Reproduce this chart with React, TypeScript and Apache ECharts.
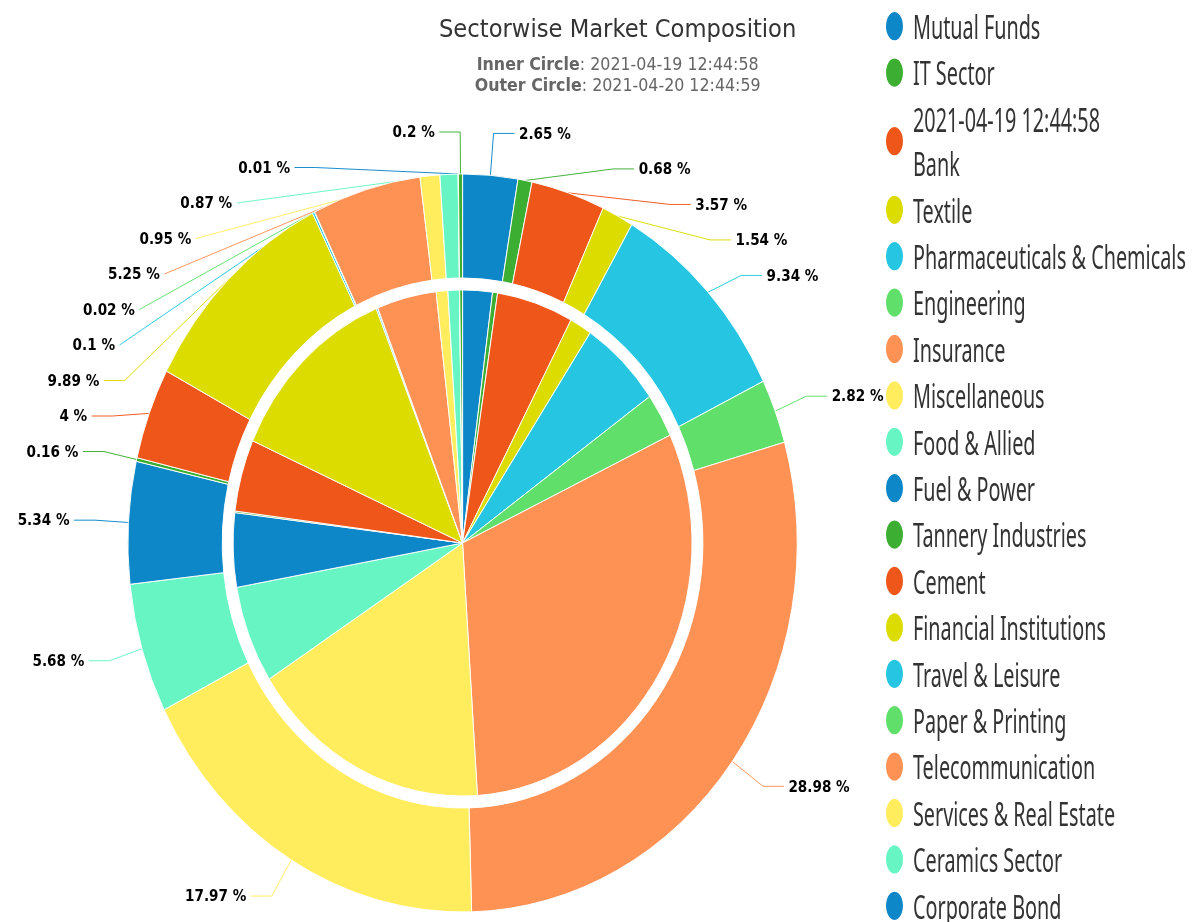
import React, { useEffect, useRef } from 'react';
import * as echarts from 'echarts';

const categories = [
  'Mutual Funds', 'IT Sector', 'Bank', 'Textile', 'Pharmaceuticals & Chemicals',
  'Engineering', 'Insurance', 'Miscellaneous', 'Food & Allied', 'Fuel & Power',
  'Tannery Industries', 'Cement', 'Financial Institutions', 'Travel & Leisure',
  'Paper & Printing', 'Telecommunication', 'Services & Real Estate', 'Ceramics Sector',
  'Corporate Bond', 'Jute',
];
// Outer circle: 2021-04-20 12:44:59 (percent)
const outerValues = [2.65, 0.68, 3.57, 1.54, 9.34, 2.82, 28.98, 17.97, 5.68, 5.34, 0.16, 4, 9.89, 0.1, 0.02, 5.25, 0.95, 0.87, 0.01, 0.2];
// Inner circle: 2021-04-19 12:44:58 (percent)
const innerValues = [2.09, 0.35, 5.39, 1.56, 5.78, 2.82, 30.98, 16.99, 6.23, 4.73, 0.1, 4.6, 12.24, 0.1, 0.02, 4.18, 0.82, 0.81, 0.01, 0.2];
const legendNames = categories.slice(0, 19);
const palette = ['#0d87c8', '#3cae32', '#ef561a', '#dcdc00', '#26c6e2', '#60df6b', '#fe9254', '#ffed5e', '#67f6c3'];

const titleText = 'Sectorwise Market Composition';
const innerTime = '2021-04-19 12:44:58';
const outerTime = '2021-04-20 12:44:59';

const SX = 0.907;
const W = Math.round(1203 / SX);
const H = 922;
const LX = 0.6;
const LEFT_L = 880;
const WL = Math.round((1203 - LEFT_L) / LX);

const mk = (vals: number[]) =>
  vals.map((v, i) => ({ name: categories[i], value: v, itemStyle: { color: palette[i % palette.length] } }));

export default function App() {
  const ref = useRef<HTMLDivElement>(null);
  const refL = useRef<HTMLDivElement>(null);
  useEffect(() => {
    if (!ref.current || !refL.current) return;
    const chart = echarts.init(ref.current, undefined, { renderer: 'svg' });
    chart.setOption({
      animation: false,
      title: [
        {
          text: titleText,
          left: 681,
          top: 16,
          padding: 0,
          textAlign: 'center',
          textStyle: { fontFamily: 'DejaVu Sans', fontSize: 25, fontWeight: 'normal', color: '#333' },
        },
        {
          text: `{b|Inner Circle}: ${innerTime}\n{b|Outer Circle}: ${outerTime}`,
          left: 681,
          top: 53,
          padding: 0,
          textAlign: 'center',
          textStyle: {
            fontFamily: 'DejaVu Sans', fontSize: 17.5, fontWeight: 'normal', color: '#666', lineHeight: 21,
            rich: { b: { fontFamily: 'DejaVu Sans', fontSize: 17.5, fontWeight: 'bold', color: '#666', lineHeight: 21 } },
          },
        },
      ],
      series: [
        {
          name: innerTime,
          type: 'pie',
          center: [510, 543],
          radius: [0, 253],
          startAngle: 90,
          clockwise: true,
          label: { show: false },
          labelLine: { show: false },
          emphasis: { disabled: true },
          itemStyle: { borderColor: '#fff', borderWidth: 1 },
          data: mk(innerValues),
        },
        {
          name: outerTime,
          type: 'pie',
          center: [510, 543],
          radius: [265, 369],
          startAngle: 90,
          clockwise: true,
          avoidLabelOverlap: true,
          minShowLabelAngle: 0,
          emphasis: { disabled: true },
          itemStyle: { borderColor: '#fff', borderWidth: 1 },
          label: {
            show: true,
            formatter: '{c} %',
            fontFamily: 'DejaVu Sans',
            fontWeight: 'bold',
            fontSize: 15,
            color: '#000',
            lineHeight: 33.5,
          },
          labelLine: { show: true, length: 42, length2: 23, lineStyle: { width: 1 } },
          data: mk(outerValues),
        },
      ],
    });

    const legendChart = echarts.init(refL.current, undefined, { renderer: 'svg' });
    legendChart.setOption({
      animation: false,
      legend: {
        orient: 'vertical',
        left: 10,
        top: 4,
        padding: 0,
        height: 1000,
        itemWidth: 28.3,
        itemHeight: 31,
        itemGap: 2,
        icon: 'circle',
        symbolKeepAspect: false,
        data: legendNames,
        formatter: (name: string) => (name === 'Bank' ? `${innerTime}\nBank` : name),
        textStyle: {
          fontFamily: 'Noto Sans',
          fontSize: 33,
          color: '#333',
          lineHeight: 44.4,
          padding: [0, 0, 0, 11.7],
        },
      },
      series: [
        {
          name: outerTime,
          type: 'pie',
          radius: [0, 0],
          silent: true,
          label: { show: false },
          labelLine: { show: false },
          data: mk(outerValues),
        },
      ],
    });
    return () => {
      chart.dispose();
      legendChart.dispose();
    };
  }, []);
  return (
    <div>
      <div
        ref={ref}
        style={{
          position: 'fixed', left: 0, top: 0, width: W, height: H,
          transform: `scaleX(${SX})`, transformOrigin: '0 0',
        }}
      />
      <div
        ref={refL}
        style={{
          position: 'fixed', left: LEFT_L, top: 0, width: WL, height: H,
          transform: `scaleX(${LX})`, transformOrigin: '0 0',
        }}
      />
    </div>
  );
}
